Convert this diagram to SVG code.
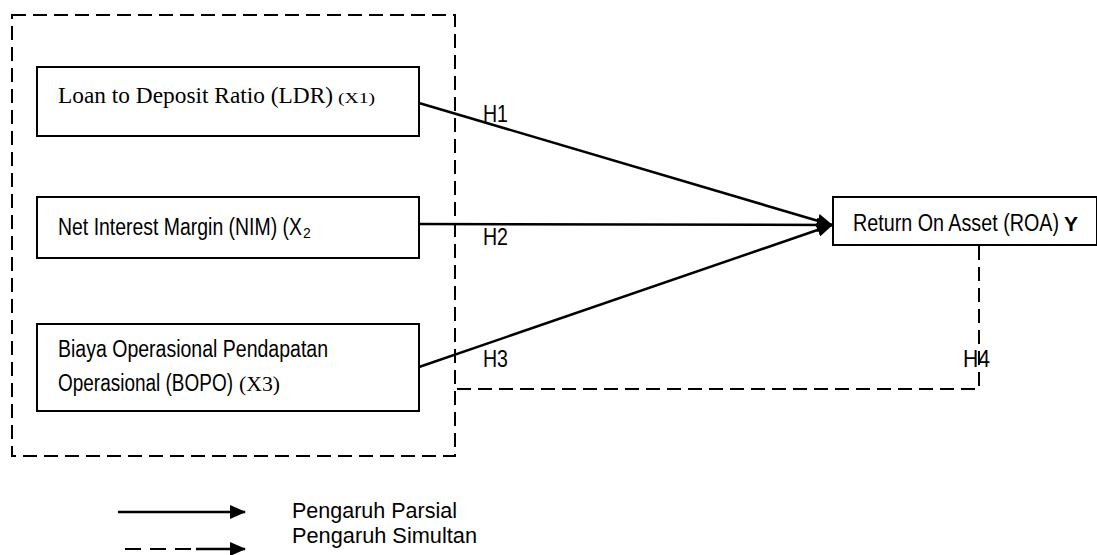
<svg xmlns="http://www.w3.org/2000/svg" width="1097" height="555" viewBox="0 0 1097 555">
<style>
.box{fill:#fff;stroke:#000;stroke-width:2}
.dash{fill:none;stroke:#000;stroke-width:2;stroke-dasharray:14 7}
.line{fill:none;stroke:#000;stroke-width:2.5}
.sans{font-family:"Liberation Sans",Arial,sans-serif;fill:#000}
.serif{font-family:"Liberation Serif","Times New Roman",serif;fill:#000}
</style>
<defs>
<marker id="ah" markerUnits="userSpaceOnUse" markerWidth="16" markerHeight="14" refX="15" refY="7" orient="auto">
<path d="M0,0 L16,7 L0,14 Z" fill="#000"/>
</marker>
</defs>
<rect width="1097" height="555" fill="#fff"/>
<g id="group-x">
<rect class="dash" x="12" y="15" width="443" height="441"/>
</g>
<g id="connectors">
<line class="line" x1="419" y1="103" x2="832" y2="225" marker-end="url(#ah)"/>
<line class="line" x1="419" y1="224" x2="832" y2="225" marker-end="url(#ah)"/>
<line class="line" x1="419" y1="367" x2="832" y2="225" marker-end="url(#ah)"/>
<polyline class="dash" points="979,246 979,389 455,389"/>
<text class="sans" x="483" y="122" font-size="24" textLength="25" lengthAdjust="spacingAndGlyphs">H1</text>
<text class="sans" x="483" y="245" font-size="24" textLength="25" lengthAdjust="spacingAndGlyphs">H2</text>
<text class="sans" x="483" y="367" font-size="24" textLength="25" lengthAdjust="spacingAndGlyphs">H3</text>
<text class="sans" x="963" y="367" font-size="24" textLength="27" lengthAdjust="spacingAndGlyphs">H4</text>
</g>
<g id="node-ldr">
<rect class="box" x="37" y="67" width="382" height="69"/>
<text class="serif" y="103"><tspan x="58" font-size="24" textLength="275" lengthAdjust="spacingAndGlyphs">Loan to Deposit Ratio (LDR)</tspan><tspan x="338" font-size="15" textLength="37" lengthAdjust="spacingAndGlyphs">(X1)</tspan></text>
</g>
<g id="node-nim">
<rect class="box" x="37" y="197" width="382" height="61"/>
<text class="sans" y="235"><tspan x="58" font-size="23" textLength="244" lengthAdjust="spacingAndGlyphs">Net Interest Margin (NIM) (X</tspan><tspan x="303" y="238" font-size="14">2</tspan></text>
</g>
<g id="node-bopo">
<rect class="box" x="37" y="324" width="382" height="87"/>
<text class="sans" x="58" y="357" font-size="23" textLength="270" lengthAdjust="spacingAndGlyphs">Biaya Operasional Pendapatan</text>
<text class="sans" y="391"><tspan x="58" font-size="23" textLength="175" lengthAdjust="spacingAndGlyphs">Operasional (BOPO)</tspan><tspan x="239" class="serif" font-size="20" textLength="41" lengthAdjust="spacingAndGlyphs">(X3)</tspan></text>
</g>
<g id="node-roa">
<rect class="box" x="833" y="197" width="264" height="48"/>
<text class="sans" y="231"><tspan x="853" font-size="23" textLength="206" lengthAdjust="spacingAndGlyphs">Return On Asset (ROA)</tspan><tspan x="1064" font-size="20" font-weight="bold" textLength="14" lengthAdjust="spacingAndGlyphs">Y</tspan></text>
</g>
<g id="legend">
<line class="line" x1="118" y1="512" x2="245" y2="512" marker-end="url(#ah)"/>
<line class="dash" x1="125" y1="549" x2="196" y2="549" style="stroke-dasharray:16 9"/>
<line class="line" x1="196" y1="549" x2="245" y2="549" marker-end="url(#ah)"/>
<text class="sans" x="292" y="518" font-size="22" textLength="165" lengthAdjust="spacingAndGlyphs">Pengaruh Parsial</text>
<text class="sans" x="292" y="543" font-size="22" textLength="185" lengthAdjust="spacingAndGlyphs">Pengaruh Simultan</text>
</g>
</svg>
